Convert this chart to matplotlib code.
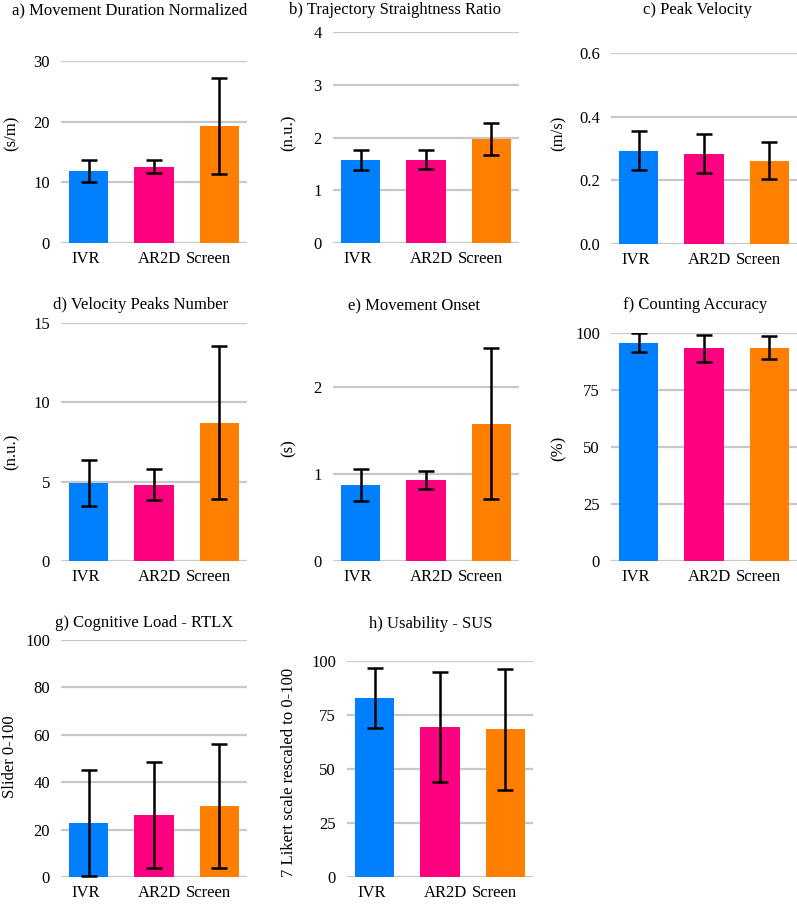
import matplotlib
matplotlib.use('Agg')
from matplotlib import pyplot as plt

plt.rcParams['font.family'] = ['Liberation Serif', 'DejaVu Serif']

groups = ['IVR', 'AR2D', 'Screen']
colors = ['#0080ff', '#ff0080', '#ff8000']

titles = ['a) Movement Duration Normalized', 'b) Trajectory Straightness Ratio',
          'c) Peak Velocity', 'd) Velocity Peaks Number', 'e) Movement Onset',
          'f) Counting Accuracy', 'g) Cognitive Load - RTLX', 'h) Usability - SUS']
ylabels = ['(s/m)', '(n.u.)', '(m/s)', '(n.u.)', '(s)', '(%)',
           'Slider 0-100', '7 Likert scale rescaled to 0-100']

duration_mean = [11.9, 12.6, 19.3]
duration_sd = [1.8, 1.1, 7.9]
straight_mean = [1.58, 1.58, 1.97]
straight_sd = [0.19, 0.18, 0.30]
velocity_mean = [0.293, 0.284, 0.262]
velocity_sd = [0.061, 0.060, 0.059]
peaks_mean = [4.92, 4.81, 8.72]
peaks_sd = [1.43, 0.98, 4.82]
onset_mean = [0.87, 0.93, 1.58]
onset_sd = [0.185, 0.10, 0.87]
accuracy_mean = [95.8, 93.3, 93.5]
accuracy_sd = [4.2, 5.9, 5.0]
rtlx_mean = [22.8, 26.3, 29.8]
rtlx_sd = [22.5, 22.3, 26.2]
sus_mean = [82.9, 69.4, 68.4]
sus_sd = [13.9, 25.4, 27.9]

means = [duration_mean, straight_mean, velocity_mean, peaks_mean,
         onset_mean, accuracy_mean, rtlx_mean, sus_mean]
sds = [duration_sd, straight_sd, velocity_sd, peaks_sd,
       onset_sd, accuracy_sd, rtlx_sd, sus_sd]
yticks = [[0, 10, 20, 30], [0, 1, 2, 3, 4], [0.0, 0.2, 0.4, 0.6],
          [0, 5, 10, 15], [0, 1, 2], [0, 25, 50, 75, 100],
          [0, 20, 40, 60, 80, 100], [0, 25, 50, 75, 100]]
ytop = [30, 4, 0.6, 15, 2.5, 100, 100, 100]
yfmt = ['%d', '%d', '%.1f', '%d', '%d', '%d', '%d', '%d']

W, H = 797, 907
# axes boxes in pixels: left, right, top, bottom
boxes = [(61, 247, 61, 243), (333, 519, 32, 243), (611, 797, 53, 244),
         (61, 247, 323, 561), (333, 519, 343.5, 561), (611, 797, 333, 561),
         (61, 247, 640, 877), (347, 533, 661, 877)]
title_pos = [(130, 10), (395, 10), (697, 10), (141, 305), (414, 306),
             (695, 305), (144, 623), (431, 624)]
ylabel_pos = [(12, 133), (289, 133), (559, 133), (12, 452), (289, 448),
              (559, 448), (10, 757), (289, 772)]
# the category labels sit a little off the bar centres, as in the original
label_x = [-0.05, 1.09, 1.83]

fig = plt.figure(figsize=(W / 100, H / 100), dpi=100)

for i in range(8):
    l, r, t, b = boxes[i]
    ax = fig.add_axes([l / W, 1 - b / H, (r - l) / W, (b - t) / H])
    ax.bar(range(3), means[i], width=0.6, color=colors, zorder=2)
    ax.errorbar(range(3), means[i], yerr=sds[i], fmt='none', ecolor='black',
                elinewidth=1.8, capsize=6, capthick=1.8, zorder=3)
    ax.set_xlim(-0.43, 2.43)
    ax.set_ylim(0, ytop[i])
    ax.set_yticks(yticks[i])
    ax.set_yticklabels([yfmt[i] % v for v in yticks[i]], fontsize=12)
    ax.set_xticks(label_x)
    ax.set_xticklabels(groups, fontsize=12)
    ax.tick_params(length=0, pad=8)
    ax.tick_params(axis='x', pad=6)
    ax.grid(axis='y', color='#c8c8c8', linewidth=1.6, zorder=0)
    for s in ax.spines.values():
        s.set_visible(False)
    ax.set_axisbelow(True)
    tx, ty = title_pos[i]
    fig.text(tx / W, 1 - ty / H, titles[i], ha='center', va='center', fontsize=12)
    lx, ly = ylabel_pos[i]
    fig.text(lx / W, 1 - ly / H, ylabels[i], ha='center', va='center',
             rotation=90, fontsize=12)

fig.savefig('out.png', dpi=100)
